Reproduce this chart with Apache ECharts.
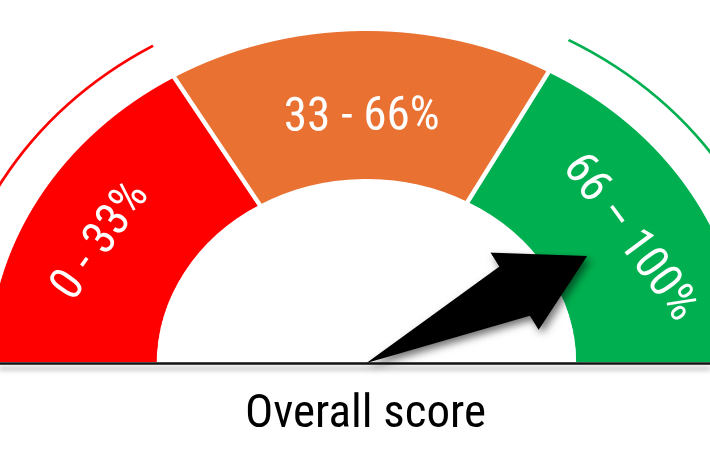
<!DOCTYPE html>
<html><head><meta charset="utf-8">
<script src="https://cdn.jsdelivr.net/npm/echarts@6/dist/echarts.min.js"></script>
<style>
html,body{margin:0;padding:0;background:#fff;overflow:hidden}
#wrap{position:relative;width:710px;height:473px;overflow:hidden;background:#fff}
#shapes{position:absolute;left:0;top:0;width:626px;height:473px;transform:scaleX(1.1342);transform-origin:0 0}
#texts{position:absolute;left:0;top:0;width:710px;height:473px}
</style></head>
<body><div id="wrap"><div id="shapes"></div><div id="texts"></div></div>
<script>
// ---- data ----
const categories = ['0 - 33%', '33 - 66%', '66 – 100%'];
const bandValues = [33, 33, 34];
const bandColors = ['#FF0000', '#E97132', '#00B050'];
const outerArcColors = ['#FF0000', 'transparent', '#00B050'];
const score = 84;
const titleText = 'Overall score';

// ---- layout ----
const SX = 1.1342;          // horizontal stretch of the dial (elliptical gauge)
const CX = 366.5, CY = 363; // dial centre in page pixels
const total = bandValues.reduce((a, b) => a + b, 0);
const hiddenSlice = () => ({ value: total, name: '', itemStyle: { color: 'transparent', borderWidth: 0, borderColor: 'transparent' }, label: { show: false } });

const shapes = echarts.init(document.getElementById('shapes'), null, { devicePixelRatio: 2 });
shapes.setOption({
  animation: false,
  backgroundColor: '#fff',
  series: [
    {
      type: 'pie', silent: true, z: 2, center: [CX / SX, CY + 1], radius: [183, 335],
      startAngle: 180, clockwise: true,
      label: { show: false }, labelLine: { show: false },
      itemStyle: { borderColor: '#fff', borderWidth: 4 },
      data: categories.map((c, i) => ({ name: c, value: bandValues[i], itemStyle: { color: bandColors[i] } })).concat([hiddenSlice()])
    },
    {
      type: 'pie', silent: true, z: 2, center: [CX / SX, CY + 1], radius: [368.5, 371],
      startAngle: 180, clockwise: true,
      label: { show: false }, labelLine: { show: false },
      data: categories.map((c, i) => ({ name: c, value: bandValues[i], itemStyle: { color: outerArcColors[i] } })).concat([hiddenSlice()])
    },
    {
      type: 'gauge', silent: true, z: 20, center: [CX / SX, CY], radius: 335,
      startAngle: 180, endAngle: 0, min: 0, max: total,
      axisLine: { show: false }, axisTick: { show: false }, splitLine: { show: false }, axisLabel: { show: false },
      anchor: { show: false }, title: { show: false }, detail: { show: false }, progress: { show: false },
      pointer: {
        show: true,
        icon: 'path://M44 0 L88 73 L72 73 L44 222 L16 73 L0 73 Z',
        length: 222, width: 88, offsetCenter: [0, 0], keepAspect: false,
        itemStyle: { color: '#000', shadowColor: 'rgba(0,0,0,0.55)', shadowBlur: 8, shadowOffsetX: 3, shadowOffsetY: 4 }
      },
      data: [{ value: score }]
    }
  ]
});

// ---- text layer (not stretched) ----
const RX_L = 305, RY_L = 245;  // ellipse on which the band labels sit
let cum = 0;
const midAngles = bandValues.map(v => { const m = cum + v / 2; cum += v; return 180 - m * 180 / total; });

const texts = echarts.init(document.getElementById('texts'));
texts.setOption({
  animation: false,
  backgroundColor: 'transparent',
  title: {
    text: titleText, left: 245, top: 392, padding: 0,
    textStyle: { fontFamily: 'Roboto Condensed', fontSize: 47, fontWeight: 'normal', color: '#000' }
  },
  grid: { left: 0, right: 0, top: 0, bottom: 110 },
  xAxis: {
    type: 'value', min: 0, max: 1,
    axisLine: { show: true, lineStyle: { color: '#111', width: 2.5, shadowColor: 'rgba(0,0,0,0.35)', shadowBlur: 5, shadowOffsetY: 5 } },
    axisTick: { show: false }, axisLabel: { show: false }, splitLine: { show: false }
  },
  yAxis: { type: 'value', min: 0, max: 1, show: false },
  series: [{
    type: 'pie', silent: true, center: [CX, CY], radius: [200, 320],
    startAngle: 180, clockwise: true,
    itemStyle: { color: 'transparent' },
    labelLine: { show: false },
    label: {
      show: true, position: 'inside', formatter: '{b}', color: '#fff',
      fontFamily: 'Roboto Condensed', fontSize: 47, fontWeight: 'normal'
    },
    labelLayout: function (p) {
      const th = midAngles[p.dataIndex];
      if (th === undefined) return {};
      const t = th * Math.PI / 180;
      return {
        x: CX + RX_L * Math.cos(t), y: CY - RY_L * Math.sin(t),
        rotate: Math.atan2(-RY_L * Math.cos(t), RX_L * Math.sin(t)) * 180 / Math.PI,
        align: 'center', verticalAlign: 'middle'
      };
    },
    data: categories.map((c, i) => ({ name: c, value: bandValues[i] })).concat([hiddenSlice()])
  }]
});
</script></body></html>
